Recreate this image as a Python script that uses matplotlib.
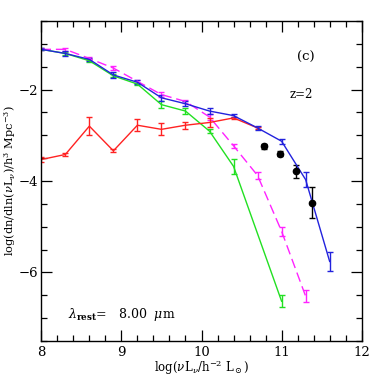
import numpy as np
import matplotlib
matplotlib.use('Agg')
import matplotlib.pyplot as plt
from matplotlib.ticker import MultipleLocator

plt.rcParams['font.family'] = 'DejaVu Serif'
plt.rcParams['mathtext.fontset'] = 'dejavuserif'

# log(nu L_nu) grid of the model curves
x_all = [8.0, 8.3, 8.6, 8.9, 9.2, 9.5, 9.8, 10.1, 10.4, 10.7, 11.0, 11.3, 11.6]

# total (blue)
blue_y = [-1.12, -1.21, -1.34, -1.68, -1.84, -2.18, -2.31, -2.47, -2.57, -2.84, -3.13, -3.97, -5.76]
blue_e = [0.02, 0.06, 0.03, 0.06, 0.04, 0.07, 0.06, 0.06, 0.04, 0.04, 0.05, 0.17, 0.2]

# green
green_y = [-1.12, -1.21, -1.37, -1.70, -1.88, -2.33, -2.47, -2.91, -3.68, None, -6.63]
green_e = [0.02, 0.03, 0.03, 0.03, 0.03, 0.08, 0.07, 0.04, 0.17, None, 0.13]

# magenta dashed
mag_y = [-1.12, -1.12, -1.32, -1.53, -1.82, -2.11, -2.26, -2.60, -3.23, -3.88, -5.10, -6.52]
mag_e = [0.02, 0.04, 0.03, 0.04, 0.03, 0.05, 0.04, 0.06, 0.05, 0.07, 0.1, 0.13]

# red
red_y = [-3.53, -3.42, -2.80, -3.34, -2.78, -2.87, -2.78, -2.72, -2.62, -2.84]
red_e = [0.05, 0.03, 0.2, 0.03, 0.13, 0.13, 0.08, 0.09, 0.02, 0.02]

# observed points
obs_x = [10.78, 10.98, 11.18, 11.38]
obs_y = [-3.24, -3.40, -3.79, -4.48]
obs_e = [0.06, 0.06, 0.15, 0.34]

fig = plt.figure(figsize=(3.82, 3.82), dpi=100)
ax = fig.add_axes([41.3 / 382, 41 / 382, 320.4 / 382, 320 / 382])

ebkw = dict(elinewidth=1.0, capsize=2.2, capthick=1.0, lw=1.0)

# green: skip missing point
gx = [x for x, y in zip(x_all, green_y) if y is not None]
gy = [y for y in green_y if y is not None]
ge = [e for e in green_e if e is not None]
ax.errorbar(gx, gy, yerr=ge, color='#22e022', **ebkw)
ax.errorbar(x_all[:len(mag_y)], mag_y, yerr=mag_e, color='#ff22ff', ls=(0, (7, 3.5)), **ebkw)
ax.errorbar(x_all[:len(red_y)], red_y, yerr=red_e, color='#ff2222', **ebkw)
ax.errorbar(x_all, blue_y, yerr=blue_e, color='#2222dd', **ebkw)
ax.errorbar(obs_x, obs_y, yerr=obs_e, fmt='o', color='black', ms=4.5,
            elinewidth=1.0, capsize=2.2, capthick=1.0)

ax.set_xlim(8, 12)
ax.set_ylim(-7.5, -0.5)
ax.xaxis.set_major_locator(MultipleLocator(1))
ax.xaxis.set_minor_locator(MultipleLocator(0.2))
ax.yaxis.set_major_locator(MultipleLocator(2))
ax.yaxis.set_minor_locator(MultipleLocator(0.5))
ax.tick_params(which='both', direction='in', top=True, right=True, labelsize=9.5)
ax.tick_params(which='major', length=8, width=0.9)
ax.tick_params(which='minor', length=4, width=0.9)
ax.tick_params(axis='y', which='major', pad=2.5)
ax.set_yticks([-2, -4, -6])
ax.set_yticklabels(['\u22122', '\u22124', '\u22126'])
for s in ax.spines.values():
    s.set_linewidth(1.0)

ax.set_xlabel(r'log($\nu$L$_\nu$/h$^{-2}$ L$_\odot$)', fontsize=8.5)
ax.xaxis.set_label_coords(0.5, -0.052)
ax.set_ylabel(r'log(dn/dln($\nu$L$_\nu$)/h$^3$ Mpc$^{-3}$)', fontsize=8.2)
ax.yaxis.set_label_coords(-0.072, 0.5)

ax.text(11.3, -1.3, '(c)', fontsize=9.5, ha='center', va='center')
ax.text(11.25, -2.1, 'z=2', fontsize=8.5, ha='center', va='center')
ax.text(8.33, -6.93, r'$\lambda_{\mathbf{rest}}$=   8.00  $\mu$m', fontsize=9, ha='left', va='center')

fig.savefig('out.png', dpi=100)
